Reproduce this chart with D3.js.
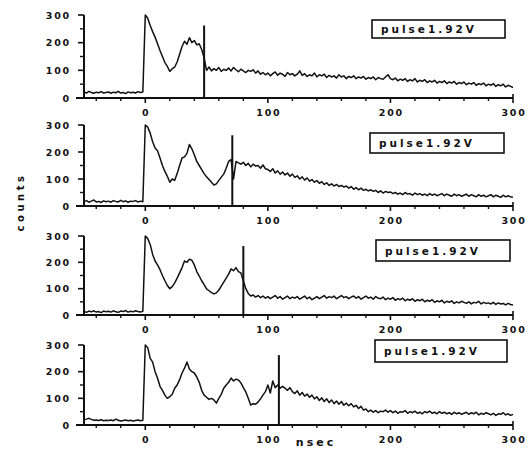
<!DOCTYPE html>
<html>
<head>
<meta charset="utf-8">
<script src="https://cdn.jsdelivr.net/npm/d3@7"></script>
<style>
  body { margin: 0; background: #fff; }
  svg { display: block; }
  text { font-family: "DejaVu Sans", sans-serif; font-weight: bold; fill: #111; }
</style>
</head>
<body>
<svg id="chart" width="532" height="450"></svg>
<script>
// time axis, nsec (one sample every 2 ns)
const nsec = d3.range(-50, 301, 2);

// counts
const countsA = [
  22,18,24,20,17,21,19,23,18,20,
  22,17,21,19,24,18,20,16,22,19,
  21,18,23,20,22,
  300,288,262,240,220,196,172,150,128,114,
  96,106,112,130,158,186,205,194,218,200,
  208,192,196,175,145,100,112,98,106,100,
  110,96,104,100,108,98,110,102,95,104,
  98,92,100,96,102,90,98,86,92,84,
  90,80,88,94,82,90,86,78,92,84,
  88,80,86,98,82,88,78,84,80,90,
  76,84,80,86,74,82,76,80,72,84,
  76,80,70,78,74,80,70,76,72,78,
  68,74,70,76,66,74,70,68,76,84,
  70,66,72,62,68,64,70,60,66,62,
  70,58,64,60,66,56,62,58,64,54,
  60,56,62,52,58,54,60,50,56,52,
  58,48,54,50,56,46,52,48,54,44,
  50,46,52,42,48,44,50,40,46,42,
  38
];
const countsB = [
  16,20,14,18,22,15,17,13,19,16,
  18,14,20,17,15,21,16,19,14,18,
  17,20,15,18,16,
  300,292,270,238,215,205,178,150,128,110,
  88,100,95,120,150,178,182,195,228,212,
  190,165,150,135,120,108,98,88,78,82,
  95,107,118,140,165,172,100,165,160,155,
  162,150,158,145,155,148,150,140,152,138,
  135,128,138,122,130,118,126,115,122,110,
  118,106,112,100,108,96,104,92,98,88,
  94,84,90,80,86,76,82,74,80,72,
  76,70,74,66,72,62,68,60,66,58,
  62,56,60,54,58,50,56,48,54,50,
  52,46,50,44,48,42,50,44,46,40,
  48,42,46,40,44,38,46,40,44,38,
  42,46,38,44,40,36,44,38,42,36,
  40,44,36,42,38,34,42,36,40,34,
  38,42,34,40,36,32,40,34,38,34,
  32
];
const countsC = [
  14,10,15,12,16,11,13,9,15,12,
  14,11,16,12,10,15,13,17,11,14,
  12,16,13,11,14,
  300,290,268,230,205,190,172,150,130,112,
  100,108,122,140,160,180,205,200,212,208,
  190,165,148,130,115,99,92,85,80,84,
  95,110,125,140,155,175,168,180,165,160,
  130,100,82,72,76,68,74,66,72,64,
  70,62,68,74,64,70,60,66,72,62,
  68,64,70,60,66,72,62,68,58,64,
  70,62,68,74,64,70,66,72,62,68,
  74,66,70,62,68,72,64,70,60,66,
  72,64,68,60,70,64,62,68,58,64,
  60,66,56,62,58,64,54,60,56,62,
  52,58,54,60,50,56,52,58,48,54,
  50,56,46,52,48,54,44,50,46,52,
  48,44,50,42,48,46,52,42,48,44,
  46,42,48,40,46,42,44,38,44,40,
  38
];
const countsD = [
  20,22,25,21,18,19,17,20,16,18,
  17,19,16,22,18,15,17,19,16,18,
  15,17,19,16,18,
  300,290,250,236,200,175,145,130,112,100,
  106,115,138,150,170,195,213,236,210,200,
  195,180,160,130,112,104,96,100,94,82,
  100,115,138,150,160,176,165,172,169,158,
  140,124,100,75,80,78,86,98,112,125,
  150,120,165,140,150,138,145,138,130,140,
  125,118,128,112,122,108,116,104,112,98,
  106,92,102,88,98,84,94,80,90,78,
  88,74,82,72,80,68,74,62,70,56,
  60,50,56,48,54,46,52,50,56,48,
  54,46,52,44,50,48,54,44,50,46,
  52,44,48,42,50,46,52,44,48,42,
  50,44,48,42,46,40,48,42,46,40,
  44,48,40,46,42,48,38,44,40,46,
  42,38,44,36,42,40,46,38,42,36,
  40
];

// pulse marker (nsec) and its height (counts)
const markerNsec = [48, 71, 80, 109];
const markerTop = [262, 262, 262, 262];
const legendLabel = "pulse1.92V";
const yTicks = [0, 100, 200, 300];
const yMinor = [50, 150, 250];
const xTicks = [0, 100, 200, 300];
const xMinor = [-40, -20, 20, 40, 60, 80, 120, 140, 160, 180, 220, 240, 260, 280];

const series = [countsA, countsB, countsC, countsD];

// panel placement in pixels
const panels = [
  { top: 15, bottom: 98, box: [372, 20, 133, 18] },
  { top: 125, bottom: 206, box: [370, 133, 134, 20] },
  { top: 236, bottom: 315, box: [376, 240, 134, 21] },
  { top: 345, bottom: 425, box: [375, 340, 132, 22] }
];

const svg = d3.select("#chart");
const x = d3.scaleLinear().domain([-50, 300]).range([84, 513]);

panels.forEach((p, i) => {
  const y = d3.scaleLinear().domain([0, 300]).range([p.bottom, p.top]);
  const g = svg.append("g");

  // x axis
  g.append("line")
    .attr("x1", 76).attr("x2", x(300))
    .attr("y1", p.bottom).attr("y2", p.bottom)
    .attr("stroke", "#111").attr("stroke-width", 2);
  g.selectAll(".xmaj").data(xTicks).join("line")
    .attr("x1", d => x(d)).attr("x2", d => x(d))
    .attr("y1", p.bottom).attr("y2", p.bottom + 5)
    .attr("stroke", "#111").attr("stroke-width", 1.6);
  g.selectAll(".xmin").data(xMinor).join("line")
    .attr("x1", d => x(d)).attr("x2", d => x(d))
    .attr("y1", p.bottom).attr("y2", p.bottom + 3)
    .attr("stroke", "#111").attr("stroke-width", 1.4);
  g.append("line")
    .attr("x1", x(300)).attr("x2", x(300))
    .attr("y1", p.bottom - 4).attr("y2", p.bottom)
    .attr("stroke", "#111").attr("stroke-width", 1.6);
  g.selectAll(".xlab").data(xTicks).join("text")
    .attr("x", d => x(d) + 1).attr("y", p.bottom + 18)
    .attr("text-anchor", "middle")
    .attr("font-size", 9.5).attr("letter-spacing", 1.8)
    .text(d => d);

  // y axis
  g.append("line")
    .attr("x1", 84).attr("x2", 84)
    .attr("y1", p.top).attr("y2", p.bottom)
    .attr("stroke", "#111").attr("stroke-width", 2);
  g.selectAll(".ymaj").data(yTicks).join("line")
    .attr("x1", 78).attr("x2", 84)
    .attr("y1", d => y(d)).attr("y2", d => y(d))
    .attr("stroke", "#111").attr("stroke-width", 1.6);
  g.selectAll(".ymin").data(yMinor).join("line")
    .attr("x1", 80).attr("x2", 84)
    .attr("y1", d => y(d)).attr("y2", d => y(d))
    .attr("stroke", "#111").attr("stroke-width", 1.4);
  g.selectAll(".ylab").data(yTicks).join("text")
    .attr("x", 71).attr("y", d => y(d) + 3.5)
    .attr("text-anchor", "end")
    .attr("font-size", 9.5).attr("letter-spacing", 1.8)
    .text(d => d);

  // spectrum
  const line = d3.line()
    .x((d, j) => x(nsec[j]))
    .y(d => y(d));
  g.append("path")
    .datum(series[i])
    .attr("fill", "none")
    .attr("stroke", "#111")
    .attr("stroke-width", 1.5)
    .attr("stroke-linejoin", "round")
    .attr("d", line);

  // pulse marker
  g.append("line")
    .attr("x1", x(markerNsec[i])).attr("x2", x(markerNsec[i]))
    .attr("y1", y(0)).attr("y2", y(markerTop[i]))
    .attr("stroke", "#111").attr("stroke-width", 2);

  // legend box
  const [bx, by, bw, bh] = p.box;
  g.append("rect")
    .attr("x", bx).attr("y", by).attr("width", bw).attr("height", bh)
    .attr("fill", "#fff").attr("stroke", "#111").attr("stroke-width", 1.6);
  g.append("text")
    .attr("x", bx + 9).attr("y", by + bh / 2 + 4)
    .attr("font-size", 10.5).attr("letter-spacing", 3)
    .text(legendLabel);
});

// axis titles
svg.append("text")
  .attr("transform", "translate(24,202) rotate(-90)")
  .attr("text-anchor", "middle")
  .attr("font-size", 10).attr("letter-spacing", 3.5)
  .text("counts");
svg.append("text")
  .attr("x", 316).attr("y", 446)
  .attr("text-anchor", "middle")
  .attr("font-size", 11).attr("letter-spacing", 3)
  .text("nsec");
</script>
</body>
</html>
